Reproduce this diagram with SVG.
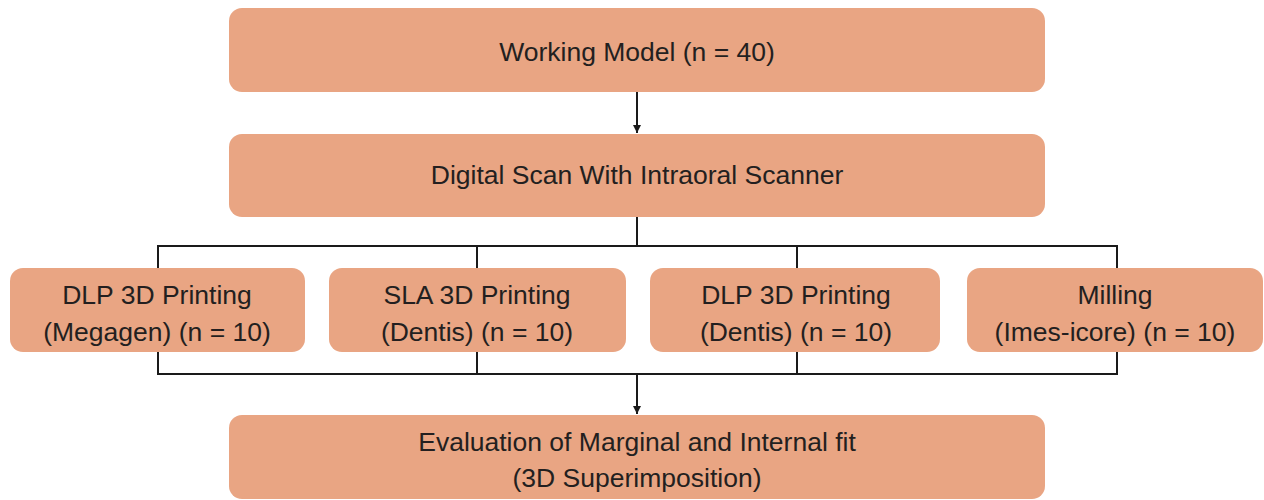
<svg xmlns="http://www.w3.org/2000/svg" width="1264" height="500" viewBox="0 0 1264 500">
<style>
.box{fill:#E9A583;}
.t{font-family:"Liberation Sans",Arial,sans-serif;font-size:26.5px;fill:#231F20;text-anchor:middle;}
.c{fill:none;stroke:#1a1a1a;stroke-width:2;}
</style>
<defs>
<marker id="ah" viewBox="0 0 10 10" refX="10" refY="5" markerWidth="10" markerHeight="8" markerUnits="userSpaceOnUse" orient="auto">
<path d="M0,0 L10,5 L0,10 z" fill="#1a1a1a"/>
</marker>
</defs>
<rect width="1264" height="500" fill="#fff"/>
<g id="connectors">
<line class="c" x1="637" y1="92" x2="637" y2="133" marker-end="url(#ah)"/>
<line class="c" x1="637" y1="217" x2="637" y2="246"/>
<polyline class="c" points="158,268 158,246 1117,246 1117,268"/>
<line class="c" x1="477" y1="246" x2="477" y2="268"/>
<line class="c" x1="797" y1="246" x2="797" y2="268"/>
<polyline class="c" points="158,352 158,374 1117,374 1117,352"/>
<line class="c" x1="477" y1="352" x2="477" y2="374"/>
<line class="c" x1="797" y1="352" x2="797" y2="374"/>
<line class="c" x1="637" y1="374" x2="637" y2="414" marker-end="url(#ah)"/>
</g>
<g id="n1"><rect class="box" x="229" y="8" width="816" height="84" rx="13"/><text class="t" x="637" y="61">Working Model (n = 40)</text></g>
<g id="n2"><rect class="box" x="229" y="134" width="816" height="83" rx="13"/><text class="t" x="637" y="184">Digital Scan With Intraoral Scanner</text></g>
<g id="n3"><rect class="box" x="10" y="268" width="295" height="84" rx="13"/><text class="t" x="157" y="304">DLP 3D Printing</text><text class="t" x="157" y="341">(Megagen) (n = 10)</text></g>
<g id="n4"><rect class="box" x="329" y="268" width="297" height="84" rx="13"/><text class="t" x="477" y="304">SLA 3D Printing</text><text class="t" x="477" y="341">(Dentis) (n = 10)</text></g>
<g id="n5"><rect class="box" x="650" y="268" width="290" height="84" rx="13"/><text class="t" x="796" y="304">DLP 3D Printing</text><text class="t" x="796" y="341">(Dentis) (n = 10)</text></g>
<g id="n6"><rect class="box" x="967" y="268" width="296" height="84" rx="13"/><text class="t" x="1115" y="304">Milling</text><text class="t" x="1115" y="341">(Imes-icore) (n = 10)</text></g>
<g id="n7"><rect class="box" x="229" y="415" width="816" height="84" rx="13"/><text class="t" x="637" y="451">Evaluation of Marginal and Internal fit</text><text class="t" x="637" y="487">(3D Superimposition)</text></g>
</svg>
